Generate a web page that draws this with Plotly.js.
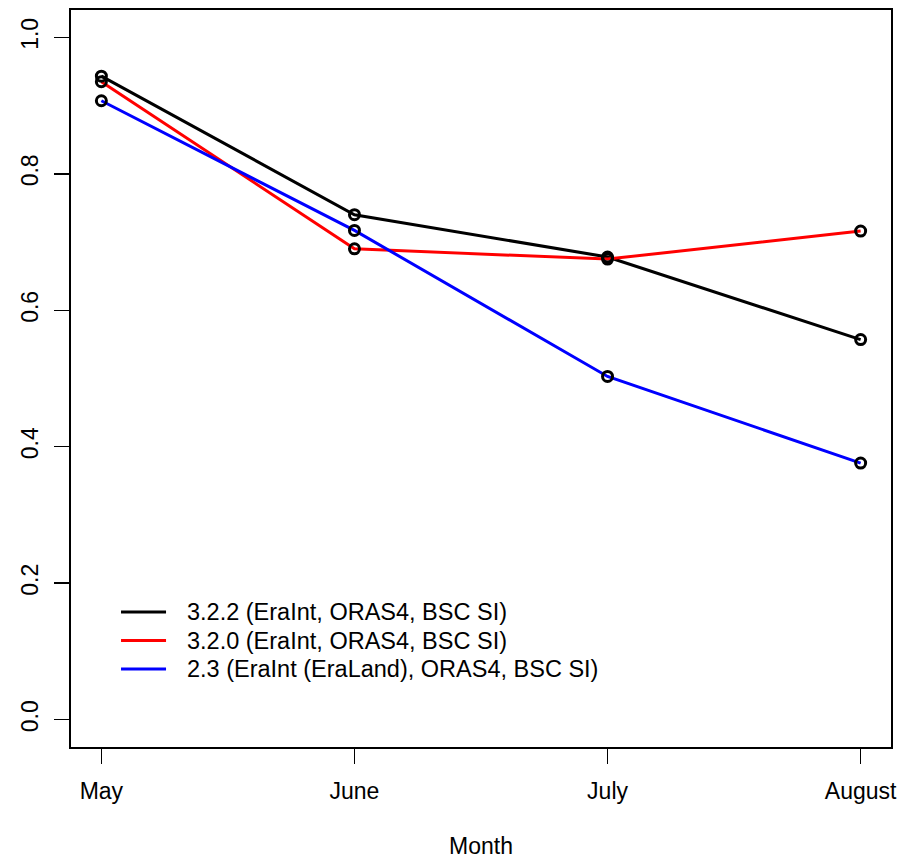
<!DOCTYPE html>
<html>
<head>
<meta charset="utf-8">
<script src="https://cdn.plot.ly/plotly-3.0.1.min.js"></script>
<style>html,body{margin:0;padding:0;background:#fff;}#chart{width:900px;height:859px;}</style>
</head>
<body>
<div id="chart"></div>
<script>
var months = ["May", "June", "July", "August"];
var seriesNames = ["3.2.2 (EraInt, ORAS4, BSC SI)", "3.2.0 (EraInt, ORAS4, BSC SI)", "2.3 (EraInt (EraLand), ORAS4, BSC SI)"];
var v322 = [0.943, 0.740, 0.678, 0.557];
var v320 = [0.935, 0.690, 0.675, 0.716];
var v23 = [0.907, 0.717, 0.503, 0.376];
var yTicks = [0.0, 0.2, 0.4, 0.6, 0.8, 1.0];
var colors = ["#000000", "#ff0000", "#0000ff"];
var allSeries = [v322, v320, v23];

var FONT = "Liberation Sans, Arial, Helvetica, sans-serif";
var traces = [];
allSeries.forEach(function (vals, i) {
  traces.push({
    x: months, y: vals, type: "scatter", mode: "lines",
    name: seriesNames[i],
    line: {color: colors[i], width: 3},
    showlegend: false, hoverinfo: "skip"
  });
});
allSeries.forEach(function (vals, i) {
  traces.push({
    x: months, y: vals, type: "scatter", mode: "markers",
    marker: {symbol: "circle-open", size: 10, color: "#000000", line: {width: 3, color: "#000000"}},
    showlegend: false, hoverinfo: "skip"
  });
});

// manual legend (R-style, lines only)
var legX0 = 0.061, legX1 = 0.1159, legTextX = 0.1390;
var legRows = [0.1832, 0.1445, 0.1058];
var shapes = [], annotations = [];
seriesNames.forEach(function (nm, i) {
  shapes.push({type: "line", xref: "paper", yref: "paper",
    x0: legX0, x1: legX1, y0: legRows[i], y1: legRows[i],
    line: {color: colors[i], width: 3}});
  annotations.push({xref: "paper", yref: "paper", x: legTextX, y: legRows[i],
    xanchor: "left", yanchor: "middle", showarrow: false, text: nm,
    font: {family: FONT, size: 23.5, color: "#000"}});
});

var layout = {
  width: 900, height: 859,
  margin: {l: 71, r: 9, t: 10, b: 112},
  paper_bgcolor: "#ffffff", plot_bgcolor: "#ffffff",
  font: {family: FONT, size: 23, color: "#000"},
  showlegend: false,
  shapes: shapes,
  annotations: annotations,
  xaxis: {
    type: "category", range: [-0.12, 3.12],
    showline: true, linewidth: 2, linecolor: "#000", mirror: true,
    ticks: "outside", ticklen: 15, tickwidth: 1.5, tickcolor: "#000",
    showgrid: false, zeroline: false,
    ticklabelstandoff: 7,
    tickfont: {family: FONT, size: 23, color: "#000"},
    title: {text: "Month", font: {family: FONT, size: 23, color: "#000"}, standoff: 38}
  },
  yaxis: {
    range: [-0.04, 1.04],
    tickvals: yTicks, tickformat: ".1f", tickangle: -90,
    showline: true, linewidth: 2, linecolor: "#000", mirror: true,
    ticks: "outside", ticklen: 15, tickwidth: 1.5, tickcolor: "#000",
    showgrid: false, zeroline: false,
    ticklabelstandoff: 7,
    tickfont: {family: FONT, size: 23, color: "#000"}
  }
};
Plotly.newPlot("chart", traces, layout, {displayModeBar: false, staticPlot: true});
</script>
</body>
</html>
